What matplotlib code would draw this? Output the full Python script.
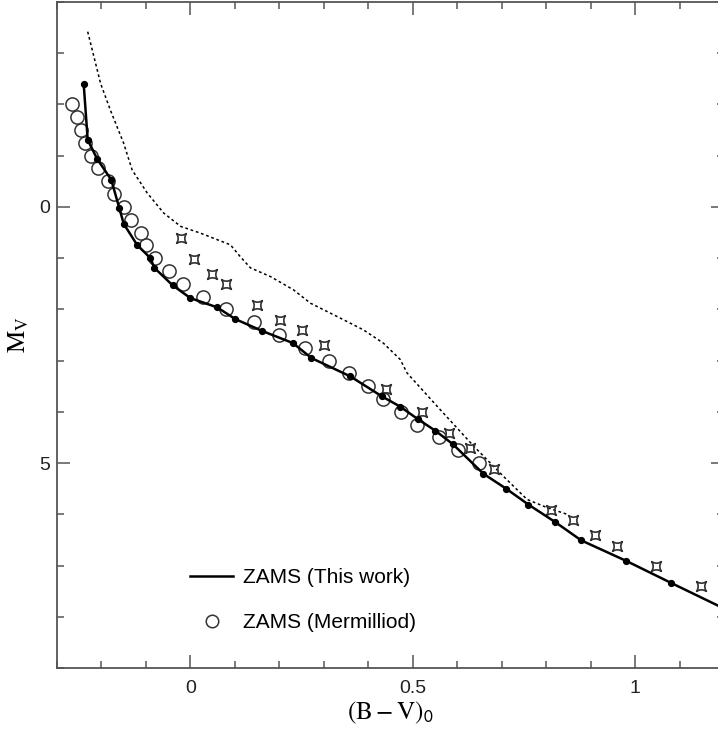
import numpy as np
import matplotlib
matplotlib.use("Agg")
from matplotlib import pyplot as plt
from matplotlib.path import Path
from matplotlib.lines import Line2D
from matplotlib.ticker import MultipleLocator

plt.rcParams['font.family'] = ['Liberation Sans', 'DejaVu Sans']
plt.rcParams['mathtext.fontset'] = 'stix'

# ZAMS of this work (solid line with dots)
bv_zams = [-0.240, -0.231, -0.210, -0.178, -0.160, -0.150, -0.120, -0.090, -0.081,
           -0.040, 0.000, 0.060, 0.101, 0.161, 0.231, 0.272, 0.360, 0.431, 0.472,
           0.511, 0.551, 0.590, 0.659, 0.710, 0.760, 0.820, 0.879, 0.980, 1.081, 1.200]
mv_zams = [-2.40, -1.31, -0.94, -0.53, 0.02, 0.33, 0.74, 1.00, 1.19,
           1.53, 1.78, 1.96, 2.19, 2.42, 2.66, 2.95, 3.31, 3.70, 3.90,
           4.14, 4.37, 4.63, 5.21, 5.50, 5.81, 6.15, 6.51, 6.91, 7.34, 7.84]

# Mermilliod ZAMS (open circles)
bv_merm = [-0.267, -0.256, -0.246, -0.236, -0.223, -0.208, -0.186, -0.172, -0.150,
           -0.133, -0.112, -0.099, -0.079, -0.049, -0.017, 0.028, 0.081, 0.144,
           0.199, 0.258, 0.311, 0.356, 0.399, 0.434, 0.473, 0.509, 0.560, 0.601, 0.650]
mv_merm = [-2.00, -1.75, -1.50, -1.25, -1.00, -0.75, -0.50, -0.25, 0.00,
           0.25, 0.50, 0.75, 1.00, 1.25, 1.50, 1.75, 2.00, 2.25,
           2.50, 2.75, 3.00, 3.25, 3.50, 3.75, 4.00, 4.25, 4.50, 4.75, 5.00]

# comparison sequence (star symbols)
bv_star = [-0.021, 0.009, 0.049, 0.081, 0.150, 0.201, 0.251, 0.300, 0.439, 0.521,
           0.581, 0.629, 0.682, 0.811, 0.860, 0.910, 0.959, 1.047, 1.148]
mv_star = [0.61, 1.01, 1.31, 1.51, 1.91, 2.20, 2.41, 2.70, 3.55, 4.01,
           4.41, 4.70, 5.11, 5.91, 6.11, 6.41, 6.61, 7.01, 7.40]

# upper envelope (dotted)
bv_dot = [-0.231, -0.202, -0.180, -0.150, -0.131, -0.097, -0.060, -0.022, 0.022,
          0.090, 0.112, 0.135, 0.180, 0.232, 0.270, 0.330, 0.389, 0.434, 0.472,
          0.487, 0.562, 0.637, 0.704, 0.757, 0.802, 0.847]
mv_dot = [-3.42, -2.41, -1.89, -1.24, -0.72, -0.27, 0.12, 0.38, 0.51,
          0.74, 0.97, 1.19, 1.36, 1.62, 1.88, 2.14, 2.40, 2.66, 2.98,
          3.24, 3.96, 4.67, 5.26, 5.71, 5.87, 6.00]

# concave square marker
verts = [(1, 1), (0, 0.35), (-1, 1), (-0.35, 0), (-1, -1), (0, -0.35),
         (1, -1), (0.35, 0), (1, 1), (1, 1)]
codes = [Path.MOVETO, Path.CURVE3, Path.CURVE3, Path.CURVE3, Path.CURVE3,
         Path.CURVE3, Path.CURVE3, Path.CURVE3, Path.CURVE3, Path.CLOSEPOLY]
astroid = Path(verts, codes)

fig = plt.figure(figsize=(7.18, 7.38), dpi=100)
ax = fig.add_axes([0.0794, 0.0949, 0.929, 0.9024])

ax.plot(bv_dot, mv_dot, color='black', lw=1.1, ls=(0, (1.8, 1.8)))
ax.plot(bv_merm, mv_merm, ls='none', marker='o', ms=9.5, mfc='none',
        mec='#333333', mew=1.1)
ax.plot(bv_star, mv_star, ls='none', marker=astroid, ms=7, mfc='none',
        mec='#333333', mew=1.2)
ax.plot(bv_zams, mv_zams, color='black', lw=1.8, marker='o', ms=4.2)

ax.set_xlim(-0.3, 1.2)
ax.set_ylim(9, -4)

ax.xaxis.set_major_locator(MultipleLocator(0.5))
ax.xaxis.set_minor_locator(MultipleLocator(0.1))
ax.yaxis.set_major_locator(MultipleLocator(5))
ax.yaxis.set_minor_locator(MultipleLocator(1))
ax.set_xticks([0, 0.5, 1])
ax.set_xticklabels(['0', '0.5', '1'])
ax.set_yticks([0, 5])
ax.set_yticklabels(['0', '5'])

ax.tick_params(which='both', direction='in', top=True, right=True,
               color='#555555', width=1.1, labelsize=14, labelcolor='#222222')
ax.tick_params(which='major', length=9.5)
ax.tick_params(which='minor', length=5)
ax.tick_params(axis='x', pad=9)
ax.tick_params(axis='y', pad=5)
for s in ax.spines.values():
    s.set_color('#555555')
    s.set_linewidth(1.3)

ax.set_xlabel(r'$\mathrm{(B-V)}_{\mathsf{0}}$', fontsize=18, labelpad=2)
ax.set_ylabel(r'$\mathrm{M}_\mathrm{V}$', fontsize=18, labelpad=6)

handles = [Line2D([], [], color='black', lw=1.8),
           Line2D([], [], ls='none', marker='o', ms=9, mfc='none',
                  mec='#333333', mew=1.1)]
ax.legend(handles, ['ZAMS (This work)', 'ZAMS (Mermilliod)'],
          loc='upper left', bbox_to_anchor=(0.1994, 0.150), frameon=False,
          fontsize=15, handlelength=2.07, handletextpad=0.48, labelspacing=1.25,
          borderpad=0, borderaxespad=0)

fig.savefig('out.png', dpi=100)
